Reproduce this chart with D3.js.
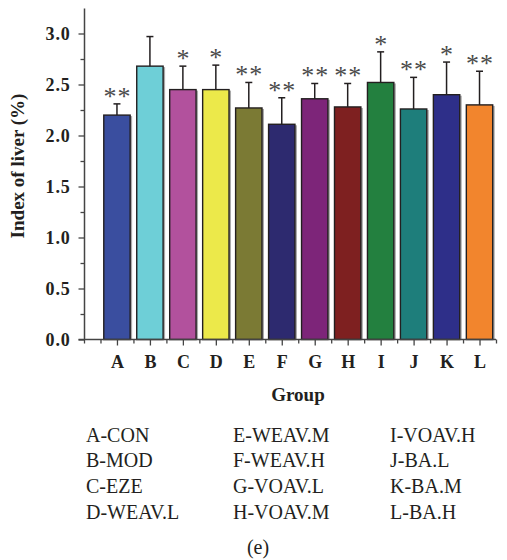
<!DOCTYPE html>
<html>
<head>
<meta charset="utf-8">
<script src="https://cdn.jsdelivr.net/npm/d3@7"></script>
<style>
  body { margin: 0; background: #fff; }
  svg text { font-family: "Liberation Serif", "DejaVu Serif", serif; fill: #231f20; }
</style>
</head>
<body>
<div id="chart"></div>
<script>
// data
const groups = ["A", "B", "C", "D", "E", "F", "G", "H", "I", "J", "K", "L"];
const means = [2.20, 2.68, 2.45, 2.45, 2.27, 2.11, 2.36, 2.28, 2.52, 2.26, 2.40, 2.30];
const errors = [0.11, 0.29, 0.23, 0.24, 0.25, 0.26, 0.15, 0.23, 0.30, 0.31, 0.32, 0.33];
const stars = [2, 0, 1, 1, 2, 2, 2, 2, 1, 2, 1, 2];
const colors = ["#3a4e9f", "#6ecfd7", "#b2519d", "#ece94a", "#7b7a34", "#2d2a6f",
  "#7d2579", "#7e2020", "#23803f", "#1e7e7b", "#2e2f89", "#f2852d"];
const yTicks = [0, 0.5, 1.0, 1.5, 2.0, 2.5, 3.0];
const legendItems = ["A-CON", "B-MOD", "C-EZE", "D-WEAV.L",
  "E-WEAV.M", "F-WEAV.H", "G-VOAV.L", "H-VOAV.M",
  "I-VOAV.H", "J-BA.L", "K-BA.M", "L-BA.H"];

const width = 507, height = 560;
const axisColor = "#444";

const svg = d3.select("#chart").append("svg")
  .attr("width", width)
  .attr("height", height);

// scales - x is linear so that bars sit at 1..12 with half steps between
const x = d3.scaleLinear().domain([0, 12.5]).range([84, 496]);
const y = d3.scaleLinear().domain([0, 3.25]).range([339.5, 8]);
const barW = 0.8;

// minor ticks
const yMinor = d3.range(0.25, 3.25, 0.5);
const xMinor = d3.range(0, 12.6, 0.5).filter(v => v % 1 !== 0).concat([0]);

svg.append("g")
  .attr("transform", `translate(${x(0)},0)`)
  .call(d3.axisLeft(y).tickValues(yMinor).tickSize(3.5).tickFormat("").tickSizeOuter(0))
  .call(g => g.select(".domain").remove())
  .selectAll("line").attr("stroke", axisColor).attr("stroke-width", 1.3);

svg.append("g")
  .attr("transform", `translate(0,${y(0)})`)
  .call(d3.axisBottom(x).tickValues(xMinor).tickSize(4).tickFormat("").tickSizeOuter(0))
  .call(g => g.select(".domain").remove())
  .selectAll("line").attr("stroke", axisColor).attr("stroke-width", 1.3);

// faint shadow to the right of each bar
svg.selectAll(".shadow")
  .data(groups)
  .join("rect")
  .attr("class", "shadow")
  .attr("x", (d, i) => x(i + 1 - barW / 2) + 2)
  .attr("width", x(barW) - x(0))
  .attr("y", (d, i) => y(means[i]) + 1)
  .attr("height", (d, i) => y(0) - y(means[i]) - 1)
  .attr("fill", "#aaa");

// bars
svg.selectAll(".bar")
  .data(groups)
  .join("rect")
  .attr("class", "bar")
  .attr("x", (d, i) => x(i + 1 - barW / 2))
  .attr("width", x(barW) - x(0))
  .attr("y", (d, i) => y(means[i]))
  .attr("height", (d, i) => y(0) - y(means[i]))
  .attr("fill", (d, i) => colors[i])
  .attr("stroke", "#231f20")
  .attr("stroke-width", 1.4);

// error bars (upper only)
const err = svg.append("g").attr("stroke", "#231f20").attr("stroke-width", 1.5);
err.selectAll(".stem")
  .data(groups)
  .join("line")
  .attr("x1", (d, i) => x(i + 1))
  .attr("x2", (d, i) => x(i + 1))
  .attr("y1", (d, i) => y(means[i]))
  .attr("y2", (d, i) => y(means[i] + errors[i]));
err.selectAll(".cap")
  .data(groups)
  .join("line")
  .attr("x1", (d, i) => x(i + 1) - 3.5)
  .attr("x2", (d, i) => x(i + 1) + 3.5)
  .attr("y1", (d, i) => y(means[i] + errors[i]))
  .attr("y2", (d, i) => y(means[i] + errors[i]));

// significance stars
groups.forEach((g, i) => {
  const n = stars[i];
  const offs = n === 2 ? [-7, 7] : n === 1 ? [0] : [];
  offs.forEach(o => {
    svg.append("text")
      .attr("x", x(i + 1) + o)
      .attr("y", y(means[i] + errors[i]) + 1)
      .attr("text-anchor", "middle")
      .attr("font-size", 26)
      .style("fill", "#4a4a4a")
      .text("*");
  });
});

// main axes
const yAxis = svg.append("g")
  .attr("transform", `translate(${x(0)},0)`)
  .call(d3.axisLeft(y).tickValues(yTicks).tickSize(5.5).tickPadding(8)
    .tickFormat(d3.format(".1f")).tickSizeOuter(0));
yAxis.select(".domain").attr("stroke", axisColor).attr("stroke-width", 1.5);
yAxis.selectAll("line").attr("stroke", axisColor).attr("stroke-width", 1.3);
yAxis.selectAll("text").attr("font-size", 18).attr("font-weight", "bold")
  .attr("font-family", "Liberation Serif").style("letter-spacing", "0.8px");

const xAxis = svg.append("g")
  .attr("transform", `translate(0,${y(0)})`)
  .call(d3.axisBottom(x).tickValues(d3.range(1, 13)).tickSize(6).tickPadding(10)
    .tickFormat(d => groups[d - 1]).tickSizeOuter(0));
xAxis.select(".domain").attr("stroke", axisColor).attr("stroke-width", 1.5)
  .attr("d", `M${x(0) - 5.5},0H${x(12.5)}`);
xAxis.selectAll("line").attr("stroke", axisColor).attr("stroke-width", 1.3);
xAxis.selectAll("text").attr("font-size", 18).attr("font-weight", "bold")
  .attr("font-family", "Liberation Serif");

// axis titles
svg.append("text")
  .attr("transform", "translate(24,166) rotate(-90)")
  .attr("text-anchor", "middle")
  .attr("font-size", 19)
  .attr("font-weight", "bold")
  .text("Index of liver (%)");

svg.append("text")
  .attr("x", 298)
  .attr("y", 401)
  .attr("text-anchor", "middle")
  .attr("font-size", 19)
  .attr("font-weight", "bold")
  .text("Group");

// legend: 3 columns of 4
const colX = [86, 233, 390];
const rowY = [442, 467, 493, 519];
svg.selectAll(".legend")
  .data(legendItems)
  .join("text")
  .attr("class", "legend")
  .attr("x", (d, i) => colX[Math.floor(i / 4)])
  .attr("y", (d, i) => rowY[i % 4])
  .attr("font-size", 20)
  .text(d => d);

svg.append("text")
  .attr("x", 258)
  .attr("y", 554)
  .attr("text-anchor", "middle")
  .attr("font-size", 20)
  .text("(e)");
</script>
</body>
</html>
